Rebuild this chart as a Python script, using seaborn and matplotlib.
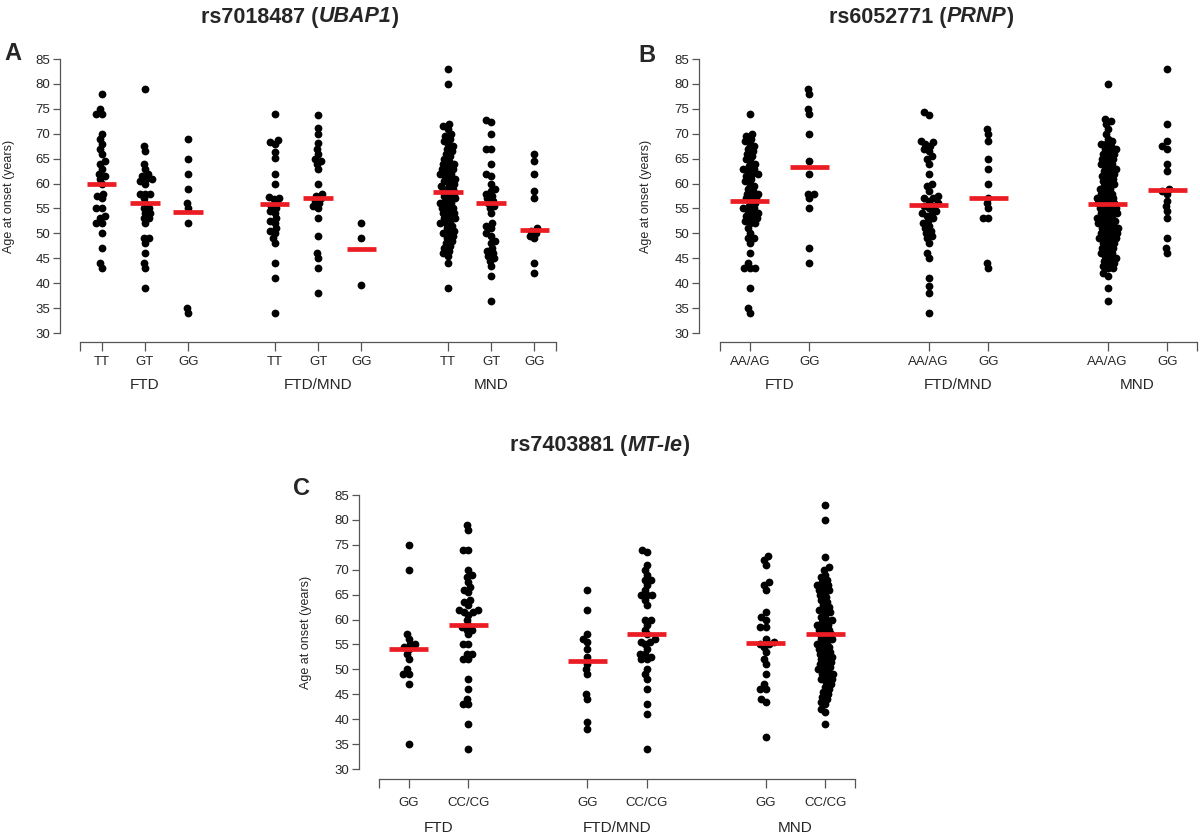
import matplotlib
matplotlib.use("Agg")
import matplotlib.pyplot as plt
import seaborn as sns
import pandas as pd
from matplotlib.transforms import blended_transform_factory

# ---------------- data ----------------
# Panel A: rs7018487 (UBAP1)
a_title = ("rs7018487 (", "UBAP1", ")")
a_groups = ["FTD", "FTD/MND", "MND"]
a_genotypes = ["TT", "GT", "GG"]
a_ftd_tt = [78, 75, 74, 74, 70, 69, 68, 67, 66, 64.5, 64, 63, 62, 61.5, 61, 60, 58, 57.5, 57,
            55, 55, 53.5, 53, 52, 52, 50, 47, 44, 43]
a_ftd_gt = [79, 67.5, 66.5, 64, 63, 62, 61.5, 61, 61, 60.5, 60, 58, 58, 58, 57, 56, 55, 55, 54, 54,
            53, 53, 52, 49, 49, 48, 46, 44, 43, 39]
a_ftd_gg = [69, 65, 62, 59, 56, 55, 52, 35, 34]
a_ftdmnd_tt = [74, 68.7, 68.3, 67.9, 66.3, 65.1, 62, 60, 57.2, 57, 56.8, 56, 55.5, 55, 54.5, 54,
               53, 52.5, 52, 51, 50.5, 50, 49, 48, 44, 41, 34]
a_ftdmnd_gt = [73.8, 71.1, 70, 68.1, 67, 66, 65, 64.5, 64, 63, 60, 58, 57.5, 57, 56.5, 56, 55.5, 55,
               53, 49.5, 46, 45, 43, 38]
a_ftdmnd_gg = [52, 49, 39.6]
a_mnd_tt = [83, 80, 72, 71.5, 71, 70, 69.5, 69, 68.5, 68, 67.5, 67, 66.5, 66, 65.5, 65, 64.5, 64, 64,
            63.5, 63, 63, 62.5, 62, 62, 61.5, 61, 61, 60.5, 60, 60, 59.5, 59, 59, 58.5, 58, 58,
            57.5, 57, 57, 56.5, 56, 56, 55.5, 55, 55, 54.5, 54, 54, 53.5, 53, 53, 52.5, 52, 52,
            51.5, 51, 50.5, 50, 50, 49.5, 49, 48.5, 48, 47.5, 47, 46.5, 46, 45.5, 44, 39]
a_mnd_gt = [72.8, 72.4, 70, 67, 67, 64, 62, 61.5, 60, 59, 58.5, 58, 57.5, 57, 56.5, 56, 55.5, 55,
            54, 52, 51.5, 51, 50, 49.5, 48.5, 48, 47, 46.5, 46, 45.5, 45, 44.5, 43.5, 41.5, 36.5]
a_mnd_gg = [66, 64.5, 62, 58.5, 57, 51, 50.5, 50, 49.5, 49, 44, 42]
a_means = [60.0, 56.0, 54.2, 55.8, 57.0, 46.8, 58.3, 56.0, 50.7]

# Panel B: rs6052771 (PRNP)
b_title = ("rs6052771 (", "PRNP", ")")
b_groups = ["FTD", "FTD/MND", "MND"]
b_genotypes = ["AA/AG", "GG"]
b_ftd_aa = [74, 70, 69.5, 69, 68.5, 68, 67.5, 67, 66.5, 66, 65.5, 65, 64.5, 64, 63.5, 63, 63, 62.5,
            62, 62, 61.5, 61, 60.5, 60, 59.5, 59, 58.5, 58, 58, 57.5, 57, 57, 56.5, 56, 55.5, 55,
            55, 54.5, 54, 54, 53.5, 53, 53, 52.5, 52, 52, 51, 50, 49, 49, 48, 46, 44, 43, 43, 43,
            39, 35, 34]
b_ftd_gg = [79, 78, 75, 74, 70, 64.5, 62, 58, 58, 57, 55, 47, 44]
b_ftdmnd_aa = [74.3, 73.8, 68.5, 68.3, 68, 67.5, 67, 66.5, 65.5, 65, 64, 62, 60, 59.5, 58.5, 57.5,
               57, 57, 56.5, 56, 55.5, 55.5, 55, 54.5, 54, 54, 53.5, 53, 52.5, 52, 51.5, 51, 50.5,
               50, 49.5, 49, 48, 46, 45, 41, 39.5, 38, 34]
b_ftdmnd_gg = [71, 70, 68.5, 65, 63, 60, 57, 56, 55, 53, 53, 44, 43]
b_mnd_aa = [80, 73, 72.5, 72, 71, 70, 69, 68.5, 68, 68, 67.5, 67, 67, 66.5, 66, 66, 65.5, 65, 65,
            64.5, 64, 64, 63.5, 63, 63, 62.5, 62, 62, 61.5, 61, 61, 60.5, 60, 60, 59.5, 59, 59,
            58.5, 58, 58, 57.5, 57, 57, 57, 56.5, 56, 56, 56, 55.5, 55, 55, 55, 54.5, 54, 54, 54,
            53.5, 53, 53, 53, 52.5, 52, 52, 52, 51.5, 51, 51, 51, 50.5, 50, 50, 50, 49.5, 49, 49,
            49, 48.5, 48, 48, 47.5, 47, 47, 46.5, 46, 46, 45.5, 45, 45, 44.5, 44, 44, 43.5, 43, 43,
            42, 41.5, 39, 36.5]
b_mnd_gg = [83, 72, 68.5, 67.5, 67, 64, 62.5, 59, 58.5, 58, 56.5, 55.5, 54.5, 53, 49, 47, 46]
b_means = [56.4, 63.3, 55.6, 57.0, 55.9, 58.8]

# Panel C: rs7403881 (MT-Ie)
c_title = ("rs7403881 (", "MT-Ie", ")")
c_groups = ["FTD", "FTD/MND", "MND"]
c_genotypes = ["GG", "CC/CG"]
c_ftd_gg = [75, 70, 57, 56, 55, 55, 54.5, 54, 53, 52, 50, 49, 49, 47, 35]
c_ftd_cc = [79, 78, 74, 74, 70, 69, 68.5, 67.5, 66.5, 66, 65.5, 64, 63.5, 63, 62, 62, 61.5, 61.5,
            61, 60, 59, 58.5, 58, 58, 57, 55, 55, 53, 53, 52, 52, 48, 46, 44, 43, 43, 39, 34]
c_ftdmnd_gg = [66, 62, 57, 56, 55.5, 54, 52.5, 51, 50, 49, 45, 44, 39.5, 38]
c_ftdmnd_cc = [74, 73.5, 71, 70, 69, 68, 68, 67, 66, 65, 65, 65, 64, 63, 60, 60, 59, 58, 57, 56,
               55.5, 55.5, 55, 54, 53, 53, 52.5, 52, 52, 50, 49, 48, 46, 43, 41, 34]
c_mnd_gg = [72.8, 72, 71, 67.5, 67, 66, 61.5, 60.5, 60, 58.5, 58.5, 56, 55.5, 55, 55, 54.5, 53.5,
            52, 51, 49, 47, 46, 46, 44, 43.5, 36.5]
c_mnd_cc = [83, 80, 72.5, 70.5, 70, 69, 68.5, 68, 67.5, 67, 67, 66.5, 66, 66, 65.5, 65, 64.5, 64,
            63.5, 63, 62.5, 62, 62, 61.5, 61, 60.5, 60, 60, 59.5, 59, 59, 58.5, 58, 58, 57.5, 57,
            57, 56.5, 56, 56, 55.5, 55, 55, 54.5, 54, 54, 53.5, 53, 53, 52.5, 52, 52, 51.5, 51,
            51, 50.5, 50, 50, 49.5, 49, 49, 48.5, 48, 48, 47.5, 47, 46.5, 46, 45.5, 45, 44.5, 44,
            43.5, 43, 42, 41.5, 39]
c_means = [54.1, 58.9, 51.7, 57.0, 55.2, 57.0]

y_ticks = [30, 35, 40, 45, 50, 55, 60, 65, 70, 75, 80, 85]
y_label = "Age at onset (years)"

# ---------------- style ----------------
sns.set_style("white")
plt.rcParams["font.family"] = ["Liberation Sans", "DejaVu Sans"]
AX_COL = "#555555"
RED = "#ec1c24"
LAYOUT_SIZE = 3.7   # marker size used by seaborn's swarm layout (allows slight overlap)
DOT_SIZE = 5.6      # final drawn marker diameter in points

W, H = 1200, 836
fig = plt.figure(figsize=(W / 100, H / 100), dpi=100)
swarm_collections = []


def px_axes(l, r, b, t):
    return fig.add_axes([l / W, 1 - b / H, (r - l) / W, (b - t) / H])


def draw_panel(ax, groups, genotypes, series, means, left_out, bottom_out, halfw,
               tick_lab_y, group_lab_y):
    order, rows, pos, labels = [], [], [], []
    k = 0
    idx = 0
    for gi, g in enumerate(groups):
        if gi > 0:
            order.append(f"_gap{gi}")
            k += 1
        for gt in genotypes:
            name = f"{g}|{gt}"
            order.append(name)
            for v in series[idx]:
                rows.append({"slot": name, "age": v})
            pos.append(k)
            labels.append(gt)
            k += 1
            idx += 1
    df = pd.DataFrame(rows)
    n_before = len(ax.collections)
    sns.swarmplot(data=df, x="slot", y="age", order=order, color="black", size=LAYOUT_SIZE,
                  linewidth=0, ax=ax, zorder=2, warn_thresh=1.0)
    for c in ax.collections[n_before:]:
        c.set_clip_on(False)
        swarm_collections.append(c)
    n = len(order)
    ax.hlines(means, [p - halfw for p in pos], [p + halfw for p in pos], colors=RED,
              linewidth=3.4, zorder=3, clip_on=False)
    ax.set_xlim(-0.5, n - 0.5)
    ax.set_ylim(30, 85)
    ax.set_xlabel("")
    ax.set_ylabel("")
    for s in ["top", "right"]:
        ax.spines[s].set_visible(False)
    ax.spines["left"].set_position(("outward", left_out))
    ax.spines["left"].set_bounds(30, 85)
    ax.spines["bottom"].set_position(("outward", bottom_out))
    ax.spines["bottom"].set_bounds(-0.5, n - 0.5)
    for s in ["left", "bottom"]:
        ax.spines[s].set_color(AX_COL)
        ax.spines[s].set_linewidth(0.9)
    ax.set_yticks(y_ticks)
    ax.set_yticklabels([str(t) for t in y_ticks])
    ax.set_xticks([-0.5] + pos + [n - 0.5])
    ax.set_xticklabels([""] * (len(pos) + 2))
    ax.tick_params(axis="y", length=5, width=0.9, color=AX_COL, labelsize=9.5, pad=2,
                   left=True)
    ax.tick_params(axis="x", length=6.5, width=0.9, color=AX_COL, bottom=True)
    tr = blended_transform_factory(ax.transData, fig.transFigure)
    for p, lab in zip(pos, labels):
        ax.text(p, 1 - tick_lab_y / H, lab, transform=tr, ha="center", va="center",
                fontsize=9.5)
    ng = len(genotypes)
    for gi, g in enumerate(groups):
        center = sum(pos[gi * ng:(gi + 1) * ng]) / ng
        ax.text(center, 1 - group_lab_y / H, g, transform=tr, ha="center", va="center",
                fontsize=11)


def rich_title(xc, yc, parts, size=15.5):
    renderer = fig.canvas.get_renderer()
    styles = ["normal", "italic", "normal"]
    widths = []
    texts = []
    for p, st in zip(parts, styles):
        t = fig.text(0, 0, p, fontsize=size, fontweight="bold", fontstyle=st,
                     va="center", ha="left")
        widths.append(t.get_window_extent(renderer).width)
        texts.append(t)
    total = sum(widths)
    x = xc - total / 2
    for t, w in zip(texts, widths):
        t.set_position((x / W, 1 - yc / H))
        x += w


# Panel A
axA = px_axes(80, 556, 333, 59)
draw_panel(axA, a_groups, a_genotypes,
           [a_ftd_tt, a_ftd_gt, a_ftd_gg, a_ftdmnd_tt, a_ftdmnd_gt, a_ftdmnd_gg,
            a_mnd_tt, a_mnd_gt, a_mnd_gg],
           a_means, 14.4, 6.8, 0.34, 362, 385)
# Panel B
axB = px_axes(720, 1197, 333, 59)
draw_panel(axB, b_groups, b_genotypes,
           [b_ftd_aa, b_ftd_gg, b_ftdmnd_aa, b_ftdmnd_gg, b_mnd_aa, b_mnd_gg],
           b_means, 15.1, 6.8, 0.33, 362, 385)
# Panel C
axC = px_axes(379, 855, 769, 495)
draw_panel(axC, c_groups, c_genotypes,
           [c_ftd_gg, c_ftd_cc, c_ftdmnd_gg, c_ftdmnd_cc, c_mnd_gg, c_mnd_cc],
           c_means, 14.4, 7.2, 0.33, 803, 828)

# y labels
for xpx, ypx in [(9, 196), (646, 196), (306, 632)]:
    fig.text(xpx / W, 1 - ypx / H, y_label, rotation=90, ha="center", va="center",
             fontsize=9)

# panel letters
for letter, xpx, ypx in [("A", 13, 53), ("B", 647, 55), ("C", 302, 488)]:
    fig.text(xpx / W, 1 - ypx / H, letter, ha="center", va="center", fontsize=17,
             fontweight="bold")

# titles
rich_title(300, 17, a_title)
rich_title(921, 17, b_title)
rich_title(600, 446, c_title)

# let seaborn lay out the swarms once, then freeze positions and draw larger dots
fig.canvas.draw()
for c in swarm_collections:
    if "draw" in c.__dict__:
        del c.__dict__["draw"]
    c.set_sizes([DOT_SIZE ** 2])

fig.savefig("out.png", dpi=100)
